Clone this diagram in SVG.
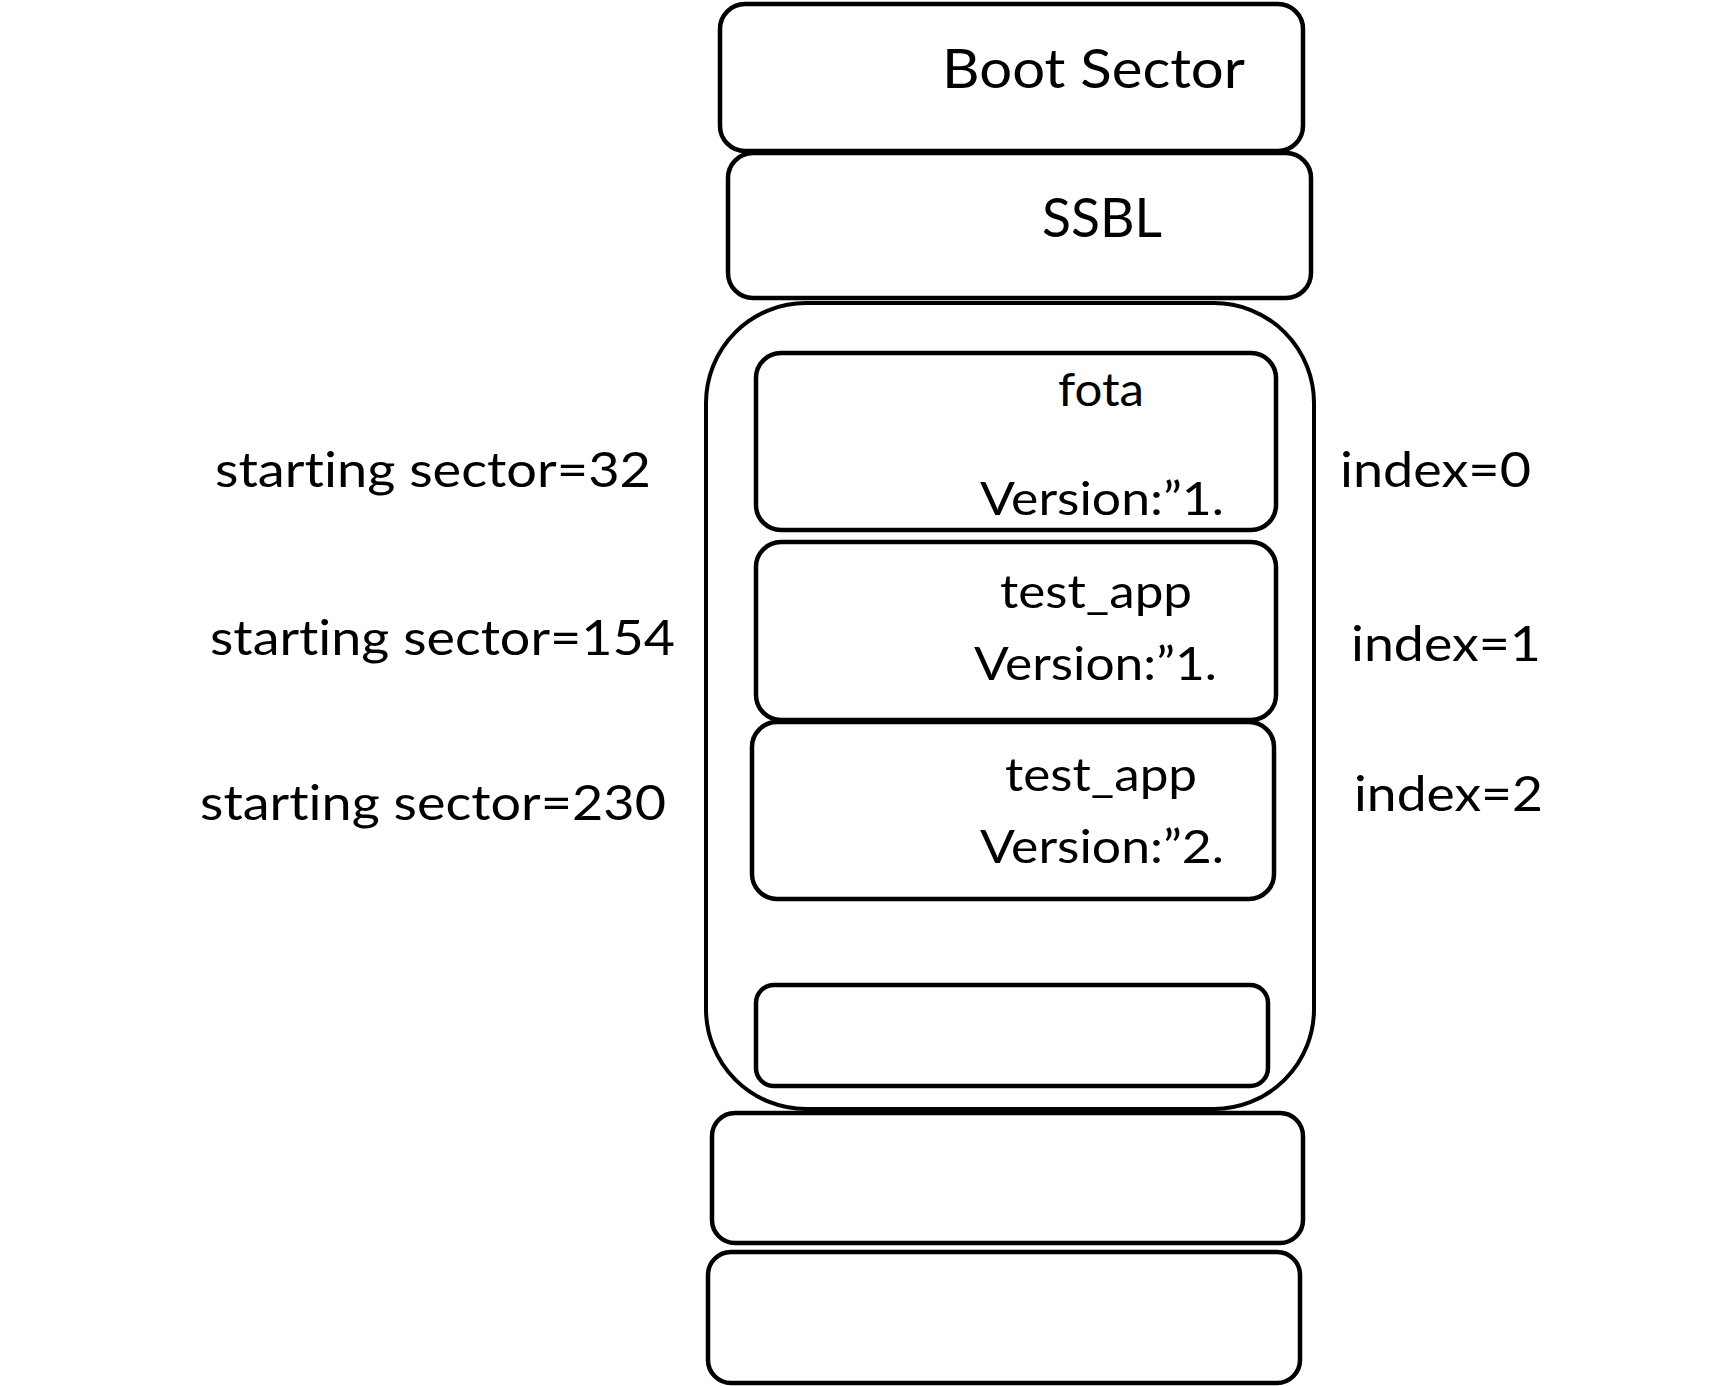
<svg xmlns="http://www.w3.org/2000/svg" width="1732" height="1386" viewBox="0 0 1732 1386">
<style>
.box{fill:#fff;stroke:#000;stroke-width:4.5}
.cont{fill:#fff;stroke:#000;stroke-width:4}
text{font-family:Lato,"Open Sans","Liberation Sans",sans-serif;fill:#000;font-variant-ligatures:none;font-feature-settings:"liga" 0,"clig" 0}
.big{font-size:54px}
.mid{font-size:46px}
.lbl{font-size:49px}
</style>
<rect width="1732" height="1386" fill="#fff"/>
<g id="boot-sector">
<rect class="box" x="720" y="4" width="583" height="147" rx="25"/>
<text class="big" x="942" y="88" textLength="303" lengthAdjust="spacingAndGlyphs">Boot Sector</text>
</g>
<g id="ssbl">
<rect class="box" x="728" y="153" width="583" height="145" rx="25"/>
<text class="big" x="1042" y="237" textLength="120" lengthAdjust="spacingAndGlyphs">SSBL</text>
</g>
<g id="partition-container">
<rect class="cont" x="706" y="303" width="608" height="806" rx="100"/>
</g>
<g id="fota">
<rect class="box" x="756" y="353" width="520" height="177" rx="25"/>
<text class="mid" x="1058" y="406" textLength="86" lengthAdjust="spacingAndGlyphs">fota</text>
<text class="mid" x="980" y="515" textLength="244" lengthAdjust="spacingAndGlyphs">Version:”1.</text>
</g>
<g id="test-app-1">
<rect class="box" x="756" y="542" width="520" height="178" rx="25"/>
<text class="mid" x="1000" y="608" textLength="192" lengthAdjust="spacingAndGlyphs">test_app</text>
<text class="mid" x="974" y="680" textLength="243" lengthAdjust="spacingAndGlyphs">Version:”1.</text>
</g>
<g id="test-app-2">
<rect class="box" x="752" y="722" width="522" height="177" rx="25"/>
<text class="mid" x="1005" y="791" textLength="192" lengthAdjust="spacingAndGlyphs">test_app</text>
<text class="mid" x="980" y="863" textLength="244" lengthAdjust="spacingAndGlyphs">Version:”2.</text>
</g>
<g id="empty-slot">
<rect class="box" x="756" y="985" width="512" height="101" rx="18"/>
</g>
<g id="bottom-1">
<rect class="box" x="712" y="1113" width="591" height="130" rx="23"/>
</g>
<g id="bottom-2">
<rect class="box" x="708" y="1252" width="592" height="131" rx="23"/>
</g>
<g id="labels">
<text class="lbl" x="215" y="487" textLength="436" lengthAdjust="spacingAndGlyphs">starting sector=32</text>
<text class="lbl" x="210" y="655" textLength="465" lengthAdjust="spacingAndGlyphs">starting sector=154</text>
<text class="lbl" x="200" y="820" textLength="466" lengthAdjust="spacingAndGlyphs">starting sector=230</text>
<text class="lbl" x="1340" y="487" textLength="191" lengthAdjust="spacingAndGlyphs">index=0</text>
<text class="lbl" x="1351" y="661" textLength="190" lengthAdjust="spacingAndGlyphs">index=1</text>
<text class="lbl" x="1354" y="811" textLength="189" lengthAdjust="spacingAndGlyphs">index=2</text>
</g>
<g id="connectors"></g>
</svg>
